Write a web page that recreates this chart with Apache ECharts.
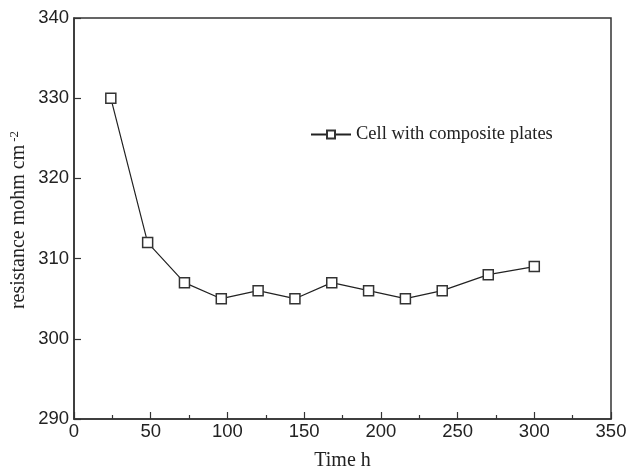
<!DOCTYPE html>
<html>
<head>
<meta charset="utf-8">
<script src="https://cdn.jsdelivr.net/npm/echarts@6/dist/echarts.min.js"></script>
<style>html,body{margin:0;padding:0;background:#fff}#c{width:629px;height:471px}</style>
</head>
<body>
<div id="c"></div>
<script>
// Cell resistance over operating time
var timeH = [24, 48, 72, 96, 120, 144, 168, 192, 216, 240, 270, 300];
var resistance = [330, 312, 307, 305, 306, 305, 307, 306, 305, 306, 308, 309];
var seriesName = 'Cell with composite plates';

var chart = echarts.init(document.getElementById('c'));
var serif = '"Liberation Serif", "Times New Roman", serif';
var sans = '"Liberation Sans", Arial, sans-serif';

chart.setOption({
  animation: false,
  backgroundColor: '#fff',
  grid: {
    left: 74, right: 18, top: 18, bottom: 52,
    outerBoundsMode: 'none',
    show: true, borderColor: '#333', borderWidth: 1.5, backgroundColor: 'transparent'
  },
  legend: {
    data: [seriesName],
    left: 305, top: 120,
    itemWidth: 40, itemHeight: 10,
    textStyle: { fontFamily: serif, fontSize: 18.5, color: '#222' }
  },
  // vertical axis title with superscript unit
  graphic: [{
    type: 'text',
    x: 19, y: 220,
    rotation: Math.PI / 2,
    style: {
      text: '{n|resistance mohm cm}{s|-2}',
      align: 'center', verticalAlign: 'middle',
      rich: {
        n: { fontFamily: serif, fontSize: 20, fill: '#222' },
        s: { fontFamily: serif, fontSize: 13, fill: '#222', verticalAlign: 'top', padding: [0, 0, 9, 3] }
      }
    }
  }],
  xAxis: {
    type: 'value', min: 0, max: 350, interval: 50,
    name: 'Time h', nameLocation: 'middle', nameGap: 32,
    nameTextStyle: { fontFamily: serif, fontSize: 20, color: '#222' },
    axisLine: { lineStyle: { color: '#333', width: 1.5 } },
    axisTick: { inside: true, length: 7, lineStyle: { color: '#333', width: 1.2 } },
    minorTick: { show: true, splitNumber: 2, length: 4, lineStyle: { color: '#333', width: 1.2 } },
    axisLabel: { fontFamily: sans, fontSize: 18.5, color: '#222', margin: 3 },
    splitLine: { show: false }
  },
  yAxis: {
    type: 'value', min: 290, max: 340, interval: 10,
    axisLine: { lineStyle: { color: '#333', width: 1.5 } },
    axisTick: { inside: true, length: 7, lineStyle: { color: '#333', width: 1.2 } },
    axisLabel: { fontFamily: sans, fontSize: 18.5, color: '#222', margin: 5 },
    splitLine: { show: false }
  },
  series: [{
    name: seriesName,
    type: 'line',
    data: timeH.map(function (t, i) { return [t, resistance[i]]; }),
    symbol: 'rect', symbolSize: 10,
    itemStyle: { color: '#fff', borderColor: '#333', borderWidth: 1.5 },
    lineStyle: { color: '#222', width: 1.2 }
  }]
});
</script>
</body>
</html>
